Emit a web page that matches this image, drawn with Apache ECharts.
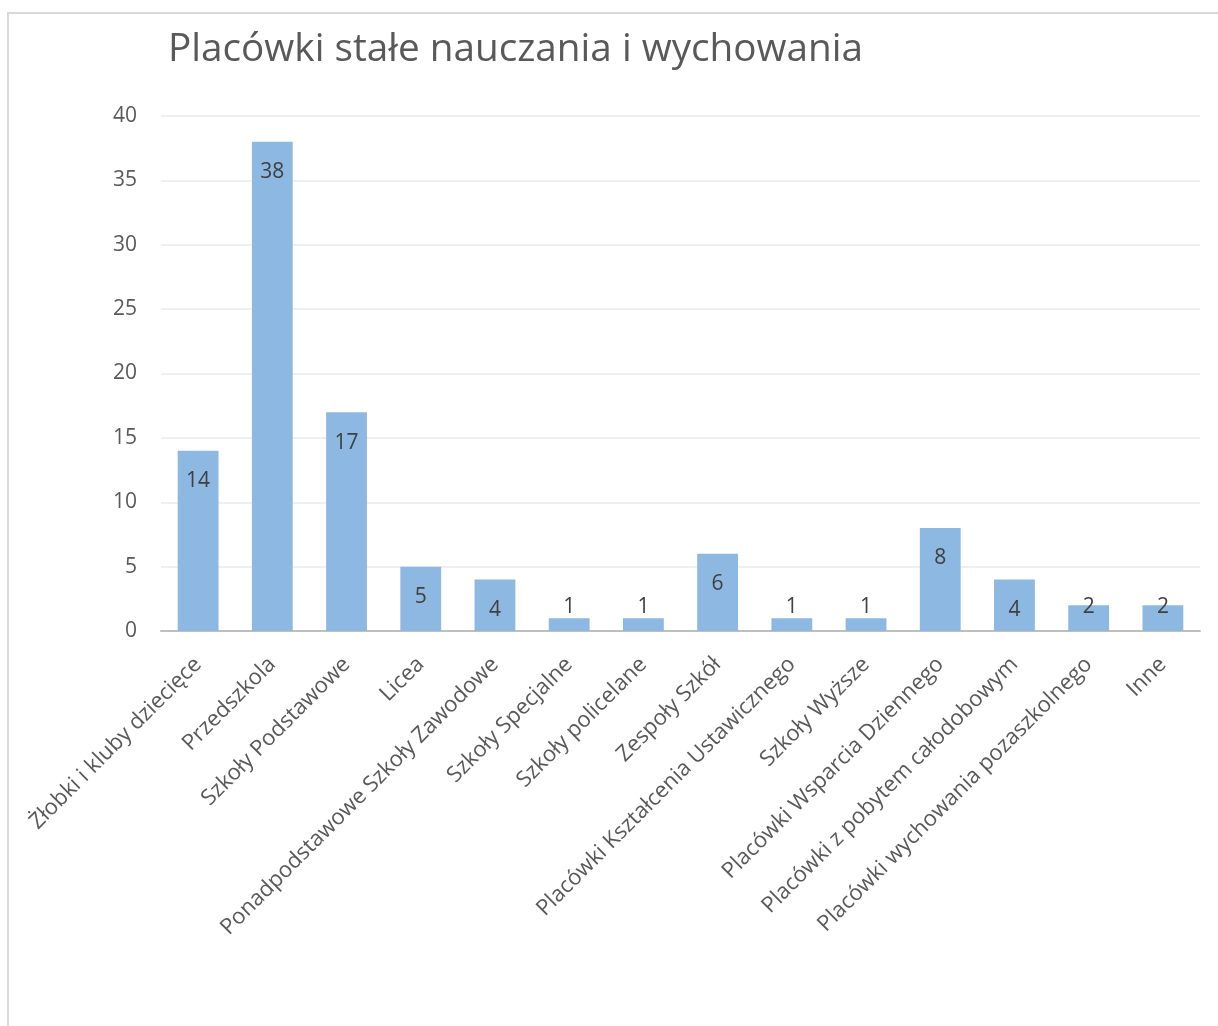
<!DOCTYPE html>
<html>
<head>
<meta charset="utf-8">
<title>Placówki stałe nauczania i wychowania</title>
<script src="https://cdn.jsdelivr.net/npm/echarts@6/dist/echarts.min.js"></script>
<style>
  html, body { margin: 0; padding: 0; background: #fff; }
  #frame { position: absolute; left: 7px; top: 12px; width: 1300px; height: 1100px;
           border-left: 2px solid #d9d9d9; border-top: 2px solid #d9d9d9; }
  #chart { position: absolute; left: 0; top: 0; width: 1218px; height: 1026px; }
</style>
</head>
<body>
<div id="frame"></div>
<div id="chart"></div>
<script>
// kategorie placówek
const categories = [
  'Żłobki i kluby dziecięce', 'Przedszkola', 'Szkoły Podstawowe', 'Licea',
  'Ponadpodstawowe Szkoły Zawodowe', 'Szkoły Specjalne', 'Szkoły policelane',
  'Zespoły Szkół', 'Placówki Kształcenia Ustawicznego', 'Szkoły Wyższe',
  'Placówki Wsparcia Dziennego', 'Placówki z pobytem całodobowym',
  'Placówki wychowania pozaszkolnego', 'Inne'
];
// liczba placówek
const counts = [14, 38, 17, 5, 4, 1, 1, 6, 1, 1, 8, 4, 2, 2];
const yTicks = [0, 5, 10, 15, 20, 25, 30, 35, 40];

const textColor = '#595959';

const chart = echarts.init(document.getElementById('chart'));
chart.setOption({
  backgroundColor: 'transparent',
  title: {
    text: 'Placówki stałe nauczania i wychowania',
    left: 163,
    top: 25,
    textStyle: { fontFamily: 'Open Sans', fontSize: 38.7, fontWeight: 'normal', color: textColor }
  },
  grid: { left: 161, right: 18, top: 116, bottom: 395 },
  xAxis: {
    type: 'category',
    data: categories,
    axisTick: { show: false },
    axisLine: { lineStyle: { color: '#bfbfbf', width: 2 } },
    axisLabel: {
      interval: 0,
      rotate: 45,
      margin: 30,
      fontFamily: 'Open Sans',
      fontSize: 22,
      color: textColor
    }
  },
  yAxis: {
    type: 'value',
    min: yTicks[0],
    max: yTicks[yTicks.length - 1],
    interval: 5,
    axisLine: { show: false },
    axisTick: { show: false },
    splitLine: { lineStyle: { color: '#efefef', width: 2 } },
    axisLabel: { margin: 24, fontFamily: 'Open Sans', fontSize: 21, color: textColor }
  },
  series: [{
    type: 'bar',
    barCategoryGap: '45%',
    itemStyle: { color: '#8cb8e1' },
    label: {
      show: true,
      position: 'insideTop',
      distance: 20,
      fontFamily: 'Open Sans',
      fontSize: 21,
      color: '#404040'
    },
    // przy niskich słupkach etykieta nie schodzi poniżej osi
    data: counts.map(v => v < 3
      ? { value: v, label: { position: 'insideBottom', distance: 13 } }
      : v)
  }]
});
</script>
</body>
</html>
